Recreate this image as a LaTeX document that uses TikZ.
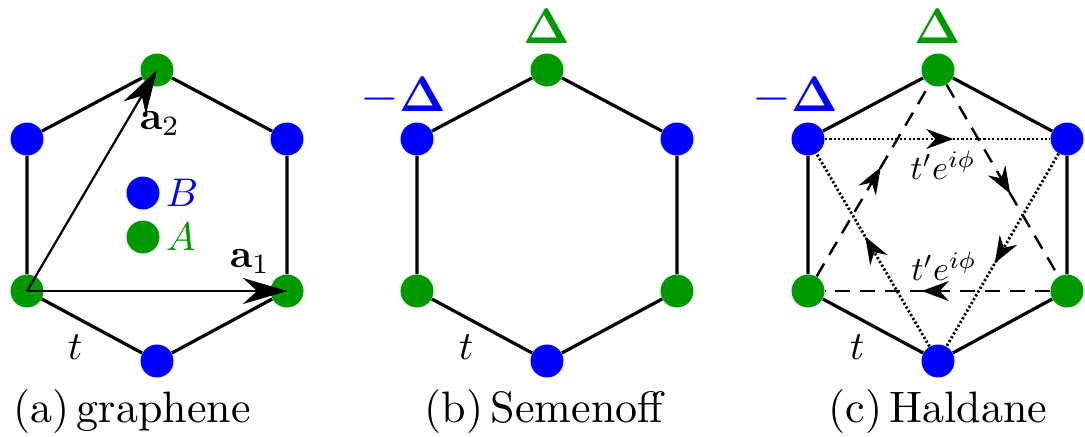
\documentclass[tikz,border=0pt]{standalone}
\usepackage{amsmath,bm}
\usetikzlibrary{arrows.meta,decorations.markings,backgrounds}
\definecolor{siteA}{RGB}{0,153,0}
\definecolor{siteB}{RGB}{0,0,255}
\begin{document}
\begin{tikzpicture}
% honeycomb cells, coordinates in pixels (y pointing down)
\def\pxsz{0.5pt}
\providecommand{\hexLineWidth}{1.6pt}
\providecommand{\vecLineWidth}{1.1pt}
\providecommand{\hopLineWidth}{1.4pt}
\providecommand{\siteSize}{16.5pt}
\begin{scope}[x=\pxsz, y=-\pxsz, line cap=round, line join=round,
  Asite/.style={circle, fill=siteA, inner sep=0pt, minimum size=\siteSize},
  Bsite/.style={circle, fill=siteB, inner sep=0pt, minimum size=\siteSize},
  bond/.style={draw=black, line width=\hexLineWidth},
  latvec/.style={draw=black, line width=\vecLineWidth, line cap=butt,
    -{Stealth[length=22pt, width=13pt, inset=7pt]}},
  nnnB/.style={draw=black, line width=\hopLineWidth, line cap=butt, dash pattern=on 1.1pt off 1.1pt},
  nnnA/.style={draw=black, line width=1.2pt, line cap=butt, dash pattern=on 7.5pt off 5pt},
  midarrow/.style={postaction={decorate, decoration={markings,
    mark=at position 0.57 with {\arrow{Stealth[length=13.5pt, width=10pt, inset=4.5pt]}}}}},
  lbl/.style={font=\fontsize{10}{12}\selectfont, scale=2, inner sep=0.5pt},
  caption/.style={font=\fontsize{10}{12}\selectfont, scale=2.2, inner sep=0.5pt},
  hoplbl/.style={font=\fontsize{10}{12}\selectfont, scale=1.7, inner sep=0.5pt},
  onsite/.style={font=\fontsize{27}{32}\selectfont, inner sep=1pt}]
  \useasboundingbox (0,0) rectangle (1085,436);

  % (a) graphene
  \node[Asite] (aAtop)   at (157,70)  {};
  \node[Bsite] (aBleft)  at (27,139)  {};
  \node[Bsite] (aBright) at (287,139) {};
  \node[Asite] (aAleft)  at (27,291)  {};
  \node[Asite] (aAright) at (287,291) {};
  \node[Bsite] (aBbot)   at (157,361) {};
  \begin{pgfonlayer}{background}
    \draw[bond] (aAtop) -- (aBright) -- (aAright) -- (aBbot) -- (aAleft) -- (aBleft) -- (aAtop);
  \end{pgfonlayer}
  % lattice vectors
  \draw[latvec] (aAleft.center) -- (aAright.center);
  \draw[latvec] (aAleft.center) -- (aAtop.center);
  \node[lbl] (aVecOne) at (250,262) {$\mathbf{a}_1$};
  \node[lbl] (aVecTwo) at (160,124) {$\mathbf{a}_2$};
  % legend
  \node[Bsite] (legB) at (143,193) {};
  \node[Asite] (legA) at (143,237) {};
  \node[lbl, text=siteB, anchor=west] (legBtext) at (163,193) {$B$};
  \node[lbl, text=siteA, anchor=west] (legAtext) at (163,237) {$A$};
  \node[lbl] (aHop) at (75,347) {$t$};
  \node[caption] (aCap) at (132,411) {(a)\,graphene};

  % (b) Semenoff
  \node[Asite] (bAtop)   at (547,70)  {};
  \node[Bsite] (bBleft)  at (417,139) {};
  \node[Bsite] (bBright) at (677,139) {};
  \node[Asite] (bAleft)  at (417,291) {};
  \node[Asite] (bAright) at (677,291) {};
  \node[Bsite] (bBbot)   at (547,361) {};
  \begin{pgfonlayer}{background}
    \draw[bond] (bAtop) -- (bBright) -- (bAright) -- (bBbot) -- (bAleft) -- (bBleft) -- (bAtop);
  \end{pgfonlayer}
  \node[onsite, text=siteA] (bMassA) at (547,26) {$\boldsymbol{\Delta}$};
  \node[onsite, text=siteB] (bMassB) at (403,96) {$-\boldsymbol{\Delta}$};
  \node[lbl] (bHop) at (466,347) {$t$};
  \node[caption] (bCap) at (544,411) {(b)\,Semenoff};

  % (c) Haldane
  \node[Asite] (cAtop)   at (938,70)  {};
  \node[Bsite] (cBleft)  at (808,139) {};
  \node[Bsite] (cBright) at (1067,139) {};
  \node[Asite] (cAleft)  at (808,291) {};
  \node[Asite] (cAright) at (1067,291) {};
  \node[Bsite] (cBbot)   at (938,361) {};
  \begin{pgfonlayer}{background}
    \draw[bond] (cAtop) -- (cBright) -- (cAright) -- (cBbot) -- (cAleft) -- (cBleft) -- (cAtop);
    % next-nearest neighbour hoppings
    \draw[nnnB, midarrow] (cBleft) -- (cBright);
    \draw[nnnB, midarrow] (cBright) -- (cBbot);
    \draw[nnnB, midarrow] (cBbot) -- (cBleft);
    \draw[nnnA, midarrow] (cAtop) -- (cAright);
    \draw[nnnA, midarrow] (cAright) -- (cAleft);
    \draw[nnnA, midarrow] (cAleft) -- (cAtop);
  \end{pgfonlayer}
  \node[hoplbl] (cHopTop) at (943,165) {$t'e^{i\phi}$};
  \node[hoplbl] (cHopBot) at (944,266) {$t'e^{i\phi}$};
  \node[onsite, text=siteA] (cMassA) at (938,26) {$\boldsymbol{\Delta}$};
  \node[onsite, text=siteB] (cMassB) at (795,96) {$-\boldsymbol{\Delta}$};
  \node[lbl] (cHop) at (857,347) {$t$};
  \node[caption] (cCap) at (938,411) {(c)\,Haldane};
\end{scope}
\end{tikzpicture}
\end{document}
